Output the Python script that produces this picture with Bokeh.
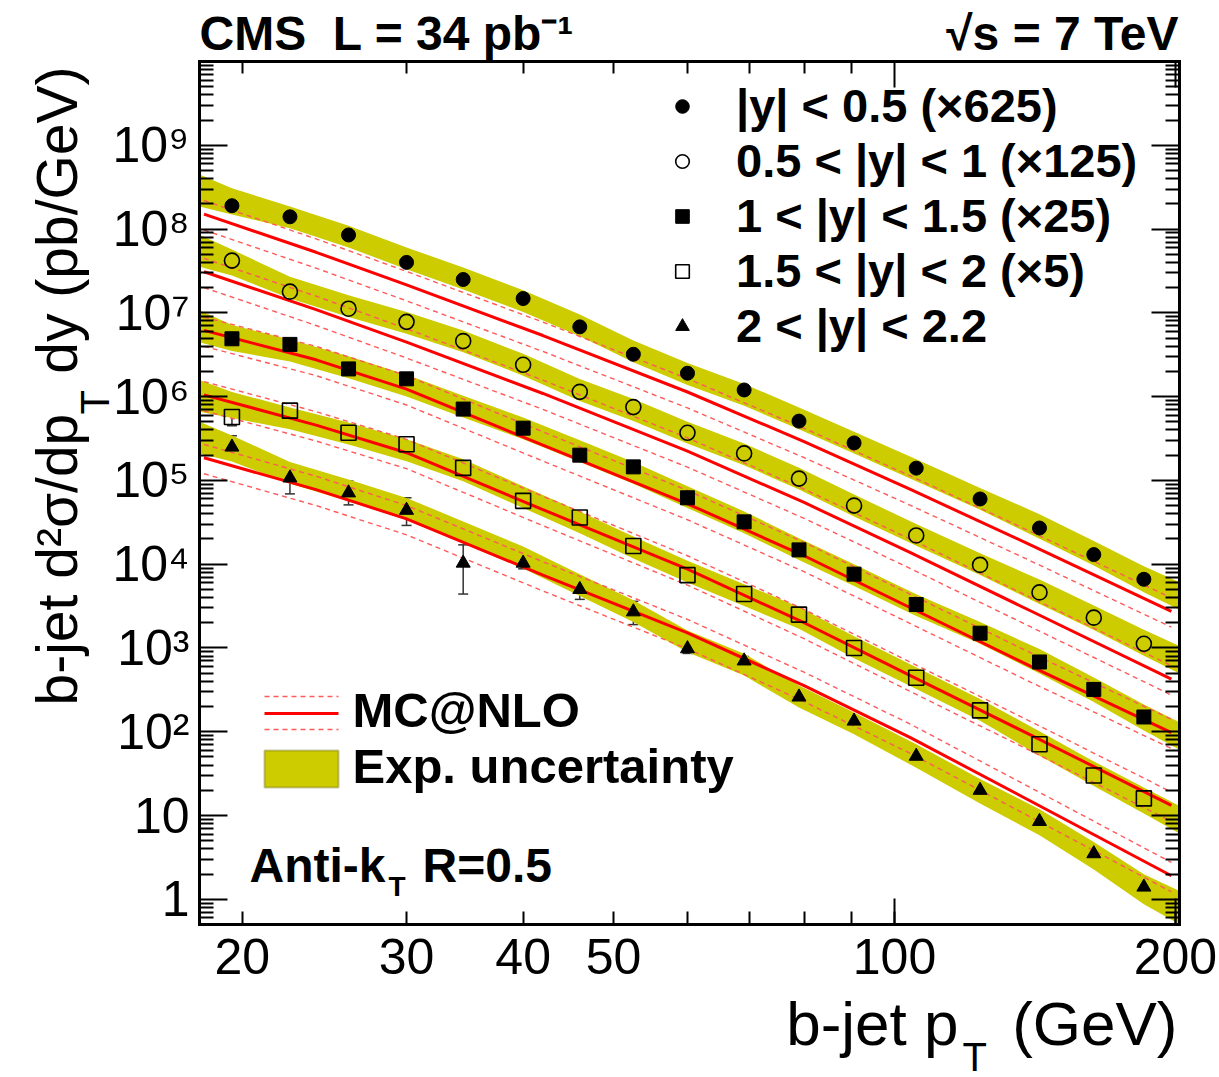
import math
from bokeh.plotting import figure
from bokeh.models import (Range1d, LogAxis, FixedTicker, Label, Legend, LegendItem,
                          ColumnDataSource, Whisker, TeeHead, Arrow, BoxAnnotation)
from bokeh.embed import file_html
from bokeh.resources import INLINE

# ---------------- data ----------------
pt = [19.5, 22.5, 26, 30, 34.5, 40, 46, 52.5, 60, 69, 79, 90.5, 105.5, 123.5, 143, 163.5, 185]

y_bin1 = [1.9e8, 1.4e8, 8.5e7, 4.0e7, 2.5e7, 1.48e7, 6.8e6, 3.2e6, 1.9e6, 1.2e6, 5.1e5, 2.8e5, 1.4e5, 6.0e4, 2.7e4, 1.3e4, 6.6e3]
y_bin2 = [4.2e7, 1.79e7, 1.12e7, 7.8e6, 4.6e6, 2.4e6, 1.14e6, 7.5e5, 3.7e5, 2.1e5, 1.05e5, 5.0e4, 2.2e4, 9.8e3, 4.6e3, 2.3e3, 1.12e3]
y_bin3 = [4.9e6, 4.2e6, 2.14e6, 1.63e6, 7.1e5, 4.2e5, 2.0e5, 1.45e5, 6.2e4, 3.2e4, 1.48e4, 7.6e3, 3.3e3, 1.5e3, 6.8e2, 3.2e2, 1.5e2]
y_bin4 = [5.7e5, 6.8e5, 3.7e5, 2.7e5, 1.41e5, 5.7e4, 3.6e4, 1.65e4, 7.4e3, 4.4e3, 2.5e3, 1.0e3, 4.4e2, 1.8e2, 71, 30, 16]
y_bin5 = [2.5e5, 1.07e5, 7.1e4, 4.4e4, 1.03e4, 1.03e4, 5.0e3, 2.7e3, 9.8e2, 7.0e2, 2.6e2, 1.34e2, 51, 20, 8.5, 3.5, 1.4]

# error bars (only where visibly larger than the markers)
err5_lo = [1.86e5, 6.9e4, 5.1e4, 2.9e4, 4.4e3, 8.8e3, 3.8e3, 1.9e3, 8.6e2, 6.2e2, 2.2e2, 1.2e2, 46, 18, 7.7, 3.2, 1.25]
err5_hi = [3.4e5, 1.45e5, 9.8e4, 6.2e4, 1.7e4, 1.2e4, 6.6e3, 3.6e3, 1.12e3, 7.9e2, 3.1e2, 1.5e2, 56, 22, 9.4, 3.8, 1.55]
err4_x = [19.5]
err4_lo = [4.5e5]
err4_hi = [7.0e5]

# MC@NLO prediction (solid) and its uncertainty (dashed)
mc_pt = [18.2, 24, 30, 42, 60, 80, 104, 140, 198]
mc1 = [1.51e8, 5.28e7, 2.16e7, 5.36e6, 1.135e6, 2.90e5, 7.80e4, 1.69e4, 2.74e3]
mc1_up = [2.19e8, 7.63e7, 3.12e7, 7.75e6, 1.64e6, 4.19e5, 1.13e5, 2.44e4, 3.96e3]
mc1_dn = [9.75e7, 3.41e7, 1.39e7, 3.46e6, 7.33e5, 1.87e5, 5.04e4, 1.09e4, 1.77e3]
mc2 = [3.09e7, 1.09e7, 4.48e6, 1.09e6, 2.23e5, 5.45e4, 1.37e4, 2.76e3, 4.25e2]
mc2_up = [4.47e7, 1.58e7, 6.47e6, 1.57e6, 3.22e5, 7.87e4, 1.99e4, 3.99e3, 6.14e2]
mc2_dn = [2.00e7, 7.06e6, 2.89e6, 7.03e5, 1.44e5, 3.52e4, 8.87e3, 1.78e3, 2.74e2]
mc3 = [6.17e6, 2.75e6, 1.23e6, 2.63e5, 5.25e4, 1.26e4, 3.02e3, 6.03e2, 97.7]
mc3_up = [8.91e6, 3.98e6, 1.78e6, 3.80e5, 7.59e4, 1.82e4, 4.37e3, 8.71e2, 141]
mc3_dn = [3.98e6, 1.78e6, 7.94e5, 1.70e5, 3.39e4, 8.13e3, 1.95e3, 3.89e2, 63.1]
mc4 = [1.05e6, 4.57e5, 2.14e5, 4.47e4, 8.71e3, 2.00e3, 4.68e2, 91.2, 13.2]
mc4_up = [1.51e6, 6.61e5, 3.09e5, 6.46e4, 1.26e4, 2.88e3, 6.76e2, 132, 19.1]
mc4_dn = [6.76e5, 2.95e5, 1.38e5, 2.88e4, 5.62e3, 1.29e3, 3.02e2, 58.9, 8.51]
mc5 = [1.86e5, 7.76e4, 3.47e4, 7.41e3, 1.51e3, 3.55e2, 85.1, 14.8, 1.91]
mc5_up = [2.69e5, 1.12e5, 5.01e4, 1.07e4, 2.19e3, 5.13e2, 123, 21.4, 2.75]
mc5_dn = [1.20e5, 5.01e4, 2.24e4, 4.79e3, 9.77e2, 2.29e2, 55.0, 9.55, 1.23]

# experimental uncertainty band: smooth central value and relative width
band_pt = [18, 19.5, 22.5, 26, 30, 34.5, 40, 46, 52.5, 60, 69, 79, 90.5, 105.5, 123.5, 143, 163.5, 185, 202]
band1 = [2.88e8, 2.14e8, 1.38e8, 8.13e7, 4.47e7, 2.57e7, 1.38e7, 7.08e6, 3.47e6, 1.86e6, 1.05e6, 5.50e5, 2.82e5, 1.32e5, 6.03e4, 2.82e4, 1.35e4, 6.61e3, 4.17e3]
band2 = [5.50e7, 3.98e7, 2.00e7, 1.20e7, 7.59e6, 4.57e6, 2.40e6, 1.20e6, 6.92e5, 3.72e5, 2.04e5, 1.05e5, 5.01e4, 2.24e4, 1.00e4, 4.68e3, 2.29e3, 1.15e3, 7.24e2]
band3 = [6.92e6, 5.01e6, 3.55e6, 2.24e6, 1.35e6, 7.59e5, 4.17e5, 2.24e5, 1.23e5, 6.31e4, 3.16e4, 1.51e4, 7.41e3, 3.24e3, 1.51e3, 6.92e2, 3.16e2, 1.48e2, 89.1]
band4 = [1.02e6, 7.94e5, 5.50e5, 3.63e5, 2.29e5, 1.32e5, 6.31e4, 3.16e4, 1.58e4, 8.13e3, 4.27e3, 2.29e3, 1.02e3, 4.37e2, 1.82e2, 72.4, 31.6, 15.1, 8.91]
band5 = [3.24e5, 2.40e5, 1.23e5, 7.59e4, 4.57e4, 2.40e4, 1.20e4, 5.62e3, 2.75e3, 1.20e3, 6.31e2, 2.63e2, 1.26e2, 51.3, 19.5, 8.32, 3.31, 1.32, 0.794]
exp_unc = [0.55, 0.43, 0.35, 0.35, 0.35, 0.35, 0.35, 0.35, 0.35, 0.35, 0.35, 0.35, 0.35, 0.35, 0.35, 0.40, 0.40, 0.43, 0.46]
exp_unc5 = [0.55, 0.43, 0.35, 0.35, 0.35, 0.35, 0.35, 0.35, 0.35, 0.35, 0.35, 0.35, 0.35, 0.38, 0.40, 0.43, 0.46, 0.51, 0.58]

legend_labels = ["|y| < 0.5 (\u00d7625)", "0.5 < |y| < 1 (\u00d7125)", "1 < |y| < 1.5 (\u00d725)",
                 "1.5 < |y| < 2 (\u00d75)", "2 < |y| < 2.2"]
x_tick_values = [20, 30, 40, 50, 100, 200]
x_minor_values = [60, 70, 80, 90]
x_long_ticks = [100, 200]
y_tick_exponents = list(range(0, 10))
X_MIN, X_MAX = 18, 202
Y_MIN, Y_MAX = 0.5, 1e10

# ---------------- layout ----------------
W, H = 1219, 1077
FL, FR, FT, FB = 199, 1179, 61, 924   # visual frame edges in canvas pixels
FONT = "Liberation Sans"
BAND_COLOR = "#cccc00"
RED = "#ff0000"
DASH_RED = "#ff5a5a"
NB = "\u00a0"

# the Bokeh frame covers the whole canvas; the drawn frame is made of fixed axes
xpd = (FR - FL) / math.log10(X_MAX / X_MIN)
ypd = (FB - FT) / math.log10(Y_MAX / Y_MIN)
x_range = Range1d(10 ** (math.log10(X_MIN) - FL / xpd), 10 ** (math.log10(X_MAX) + (W - FR) / xpd))
y_range = Range1d(10 ** (math.log10(Y_MIN) - (H - FB) / ypd), 10 ** (math.log10(Y_MAX) + FT / ypd))

p = figure(width=W, height=H, x_axis_type="log", y_axis_type="log",
           x_range=x_range, y_range=y_range,
           output_backend="svg", toolbar_location=None, min_border=0)
p.xgrid.visible = False
p.ygrid.visible = False
p.outline_line_color = None
p.background_fill_color = "white"
p.border_fill_color = "white"

# bands
for c, u in [(band1, exp_unc), (band2, exp_unc), (band3, exp_unc), (band4, exp_unc), (band5, exp_unc5)]:
    hi = [ci * (1 + ui) for ci, ui in zip(c, u)]
    lo = [max(ci / (1 + ui), Y_MIN) for ci, ui in zip(c, u)]
    p.varea(x=band_pt, y1=lo, y2=hi, fill_color=BAND_COLOR, fill_alpha=1.0)

# MC lines
for c, up, dn in [(mc1, mc1_up, mc1_dn), (mc2, mc2_up, mc2_dn), (mc3, mc3_up, mc3_dn),
                  (mc4, mc4_up, mc4_dn), (mc5, mc5_up, mc5_dn)]:
    p.line(mc_pt, up, line_color=DASH_RED, line_width=1.4, line_dash="5 4")
    p.line(mc_pt, dn, line_color=DASH_RED, line_width=1.4, line_dash="5 4")
    p.line(mc_pt, c, line_color=RED, line_width=3)

# error bars
src5 = ColumnDataSource(dict(x=pt, lo=err5_lo, hi=err5_hi))
src4 = ColumnDataSource(dict(x=err4_x, lo=err4_lo, hi=err4_hi))
for src in (src5, src4):
    w = Whisker(source=src, base="x", lower="lo", upper="hi", line_color="#333333", line_width=1.5,
                upper_head=TeeHead(size=10, line_color="#333333", line_width=1.5),
                lower_head=TeeHead(size=10, line_color="#333333", line_width=1.5))
    p.add_layout(w)

# markers
r1 = p.scatter(pt, y_bin1, marker="circle", size=14, fill_color="black", line_color="black")
r2 = p.scatter(pt, y_bin2, marker="circle", size=15, fill_alpha=0, line_color="black", line_width=1.6)
r3 = p.scatter(pt, y_bin3, marker="square", size=14, fill_color="black", line_color="black")
r4 = p.scatter(pt, y_bin4, marker="square", size=15, fill_alpha=0, line_color="black", line_width=1.6)
r5 = p.scatter(pt, y_bin5, marker="triangle", size=14, fill_color="black", line_color="black")

# ---------------- axes (fixed at the frame edges) ----------------
y_ticks = [10.0 ** e for e in y_tick_exponents]
y_minor = [m * 10.0 ** e for e in range(-1, 10) for m in range(2, 10)]
y_minor = [v for v in y_minor if Y_MIN <= v <= Y_MAX]
sup = str.maketrans("0123456789", "\u2070\u00b9\u00b2\u00b3\u2074\u2075\u2076\u2077\u2078\u2079")
y_over = {}
for e, t in zip(y_tick_exponents, y_ticks):
    y_over[t] = "1" if e == 0 else ("10" if e == 1 else "10" + str(e).translate(sup))


def style_axis(ax):
    ax.axis_line_width = 3
    ax.axis_line_cap = "square"
    ax.major_tick_line_width = 2
    ax.minor_tick_line_width = 2
    ax.major_tick_out = 0
    ax.minor_tick_out = 0
    ax.major_label_text_font = FONT
    ax.major_label_text_font_size = "50px"
    ax.major_label_text_color = "black"


yax = p.yaxis[0]
yax.ticker = FixedTicker(ticks=y_ticks, minor_ticks=y_minor)
yax.major_label_overrides = y_over
yax.fixed_location = X_MIN
yax.bounds = (Y_MIN, Y_MAX)
style_axis(yax)
yax.major_tick_in = 28
yax.minor_tick_in = 14
yax.major_label_standoff = 10

xax = p.xaxis[0]
xax.ticker = FixedTicker(ticks=x_tick_values, minor_ticks=x_minor_values)
xax.major_label_overrides = {v: str(v) for v in x_tick_values}
xax.fixed_location = Y_MIN
xax.bounds = (X_MIN, X_MAX)
style_axis(xax)
xax.major_tick_in = 13
xax.minor_tick_in = 13
xax.major_label_standoff = 14

# longer ticks at 100 and 200 on the bottom edge (no line, no labels)
xlong = LogAxis(ticker=FixedTicker(ticks=x_long_ticks, minor_ticks=[]),
                fixed_location=Y_MIN, bounds=(X_MIN, X_MAX))
style_axis(xlong)
xlong.axis_line_color = None
xlong.major_tick_in = 26
xlong.major_label_text_color = None
p.add_layout(xlong, "below")

top = LogAxis(ticker=FixedTicker(ticks=x_long_ticks, minor_ticks=[20, 30, 40, 50, 60, 70, 80, 90]),
              fixed_location=Y_MAX, bounds=(X_MIN, X_MAX))
style_axis(top)
top.major_tick_in = 26
top.minor_tick_in = 12
top.major_label_text_color = None
p.add_layout(top, "above")

right = LogAxis(ticker=FixedTicker(ticks=y_ticks, minor_ticks=y_minor),
                fixed_location=X_MAX, bounds=(Y_MIN, Y_MAX))
style_axis(right)
right.major_tick_in = 28
right.minor_tick_in = 14
right.major_label_text_color = None
p.add_layout(right, "right")


def label(cx, cy, text, size, bold=False, align="left", rotated=False, color="black"):
    """cx, cy: canvas position of the text baseline anchor (y downward)."""
    shift = 0.35 * size  # from baseline to the middle of the em box
    if rotated:
        sx, sy, angle = cx - shift, H - cy, math.pi / 2
    else:
        sx, sy, angle = cx, H - (cy - shift), 0.0
    lb = Label(x=sx, y=sy, x_units="screen", y_units="screen", text=text,
               text_font=FONT, text_font_size=f"{size}px",
               text_font_style="bold" if bold else "normal",
               text_align=align, text_baseline="middle", angle=angle, text_color=color)
    p.add_layout(lb)
    return lb


# axis titles
label(958, 1045, "b-jet p", 62, align="right")
label(962, 1070, "T", 40)
label(1177, 1045, "(GeV)", 62, align="right")
label(76, 705, "b-jet d\u00b2\u03c3/dp", 57, align="left", rotated=True)
label(108, 414, "T", 40, align="left", rotated=True)
label(76, 66, NB + "dy (pb/GeV)", 57, align="right", rotated=True)

# header
label(199, 50, "CMS" + NB + NB + "L = 34 pb\u207b\u00b9", 48, bold=True)
label(1178, 50, "\u221as = 7 TeV", 48, bold=True, align="right")

# Anti-kT
label(249, 882, "Anti-k", 48, bold=True)
label(388, 896, "T", 28, bold=True)
label(422, 882, "R=0.5", 48, bold=True)

# marker legend
legend = Legend(items=[LegendItem(label=t, renderers=[r]) for t, r in
                       zip(legend_labels, [r1, r2, r3, r4, r5])],
                location=(665, H - 353), orientation="vertical",
                glyph_width=34, glyph_height=54, spacing=0, padding=0, margin=0,
                label_standoff=37, label_text_font=FONT, label_text_font_style="bold",
                label_text_font_size="47px", label_text_baseline="middle", label_text_color="black",
                border_line_alpha=0, background_fill_alpha=0)
p.add_layout(legend)

# MC / band legend (drawn as annotations)
for cy, dash, col, lw in [(696, "5 4", DASH_RED, 1.4), (713, "solid", RED, 3), (729, "5 4", DASH_RED, 1.4)]:
    p.add_layout(Arrow(x_start=264, y_start=H - cy, x_end=338, y_end=H - cy,
                       start_units="screen", end_units="screen", start=None, end=None,
                       line_color=col, line_width=lw, line_dash=dash))
p.add_layout(BoxAnnotation(left=264, right=338, top=H - 750, bottom=H - 787,
                           left_units="screen", right_units="screen",
                           top_units="screen", bottom_units="screen",
                           fill_color=BAND_COLOR, fill_alpha=1.0, line_color="#4d4d00", line_width=2))
label(352, 727, "MC@NLO", 49, bold=True)
label(352, 783, "Exp. uncertainty", 49, bold=True)

open("out.html", "w").write(file_html(p, INLINE))
